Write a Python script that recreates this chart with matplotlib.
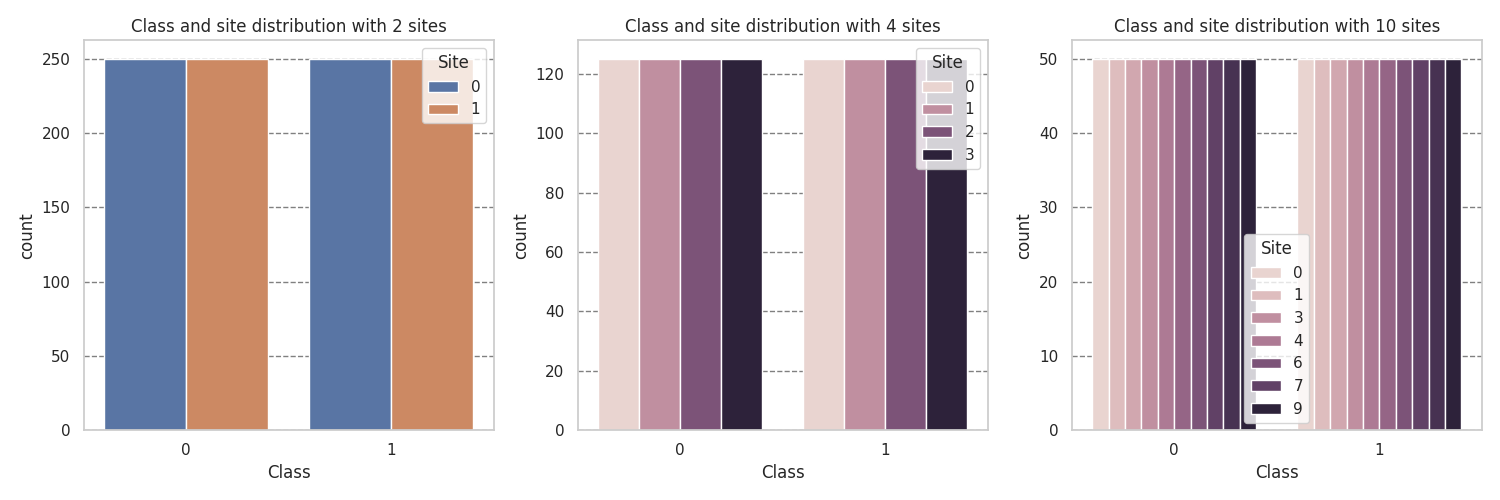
import matplotlib
matplotlib.use('Agg')
import matplotlib.pyplot as plt
import pandas as pd
import seaborn as sns

classes = [0, 1]
n_sites = [2, 4, 10]
counts_per_site = [250, 125, 50]

sns.set_theme(style='whitegrid')

fig, axes = plt.subplots(ncols=3, nrows=1, figsize=(15, 5))

for ax, n, c in zip(axes, n_sites, counts_per_site):
	rows = []
	for cl in classes:
		for s in range(n):
			rows.append({'Class': cl, 'Site': s, 'count': c})
	df = pd.DataFrame(rows)
	sns.barplot(data=df, x='Class', y='count', hue='Site', ax=ax)
	ax.grid(axis='y', linestyle='--', color='gray')
	ax.set_axisbelow(True)
	ax.set_title('Class and site distribution with %d sites' % n)

plt.tight_layout()
fig.savefig('out.png', dpi=100)
